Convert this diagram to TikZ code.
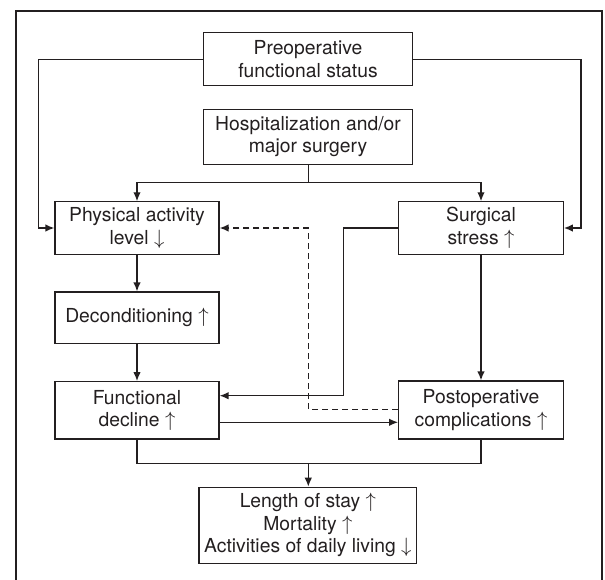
\documentclass[tikz,border=0pt]{standalone}
\usepackage{fontspec}
\setmainfont{TeX Gyre Heros}
\usetikzlibrary{arrows.meta}
\definecolor{ink}{HTML}{231F20}
\begin{document}
\begin{tikzpicture}[x=1pt,y=-1pt,
  box/.style={draw=ink,line width=1.2pt,inner sep=0pt,align=center,text=ink,
    font=\fontsize{19.3}{22.5}\selectfont,anchor=center},
  conn/.style={draw=ink,line width=1.4pt},
  arr/.style={conn,-{Latex[length=9pt,width=7.5pt]}},
  dsh/.style={arr,dash pattern=on 6pt off 4pt}]
\useasboundingbox (0,0) rectangle (605,579);
\draw[ink,line width=2.3pt] (16,581) -- (16,11) -- (602,11) -- (602,581);
% nodes
\node[box,minimum width=209.4pt,minimum height=53pt] (preop) at (308,59.3) {Preoperative\\functional status};
\node[box,minimum width=209.4pt,minimum height=55pt] (hosp) at (308,136.8) {Hospitalization and/or\\major surgery};
\node[box,minimum width=164pt,minimum height=52.3pt] (phys) at (137,228) {Physical activity\\level $\downarrow$};
\node[box,minimum width=164.6pt,minimum height=52.3pt] (surg) at (481,228) {Surgical\\stress $\uparrow$};
\node[box,minimum width=164pt,minimum height=51.3pt] (decond) at (137,317.7) {Deconditioning $\uparrow$};
\node[box,minimum width=164pt,minimum height=57.3pt] (func) at (137,410.3) {Functional\\decline $\uparrow$};
\node[box,minimum width=164.6pt,minimum height=58pt] (postop) at (481,410) {Postoperative\\complications $\uparrow$};
\node[box,minimum width=217.7pt,minimum height=76pt] (out) at (307.9,525.3) {Length of stay $\uparrow$\\Mortality $\uparrow$\\Activities of daily living $\downarrow$};
% coordinates
\coordinate (pl) at (38.3,228);
\coordinate (pr) at (581,228);
\coordinate (hj) at (308.3,182.7);
\coordinate (sl) at (343.3,395.7);
\coordinate (dl) at (308.3,409.3);
\coordinate (fp) at (0,422.3);
\coordinate (bl) at (137,463.3);
\coordinate (br) at (481,463.3);
\coordinate (bm) at (308.3,463.3);
% connectors
\draw[arr] (preop.west) -| (pl) -- (phys.west);
\draw[arr] (preop.east) -| (pr) -- (surg.east);
\draw[conn] (hosp.south -| hj) -- (hj);
\draw[arr] (hj) -| (phys.north);
\draw[arr] (hj) -| (surg.north);
\draw[arr] (phys.south) -- (decond.north);
\draw[arr] (decond.south) -- (func.north);
\draw[arr] (surg.south) -- (postop.north);
\draw[arr] (surg.west) -| (sl) -- (sl -| func.east);
\draw[dsh] (dl -| postop.west) -- (dl) -- (dl |- phys.east) -- (phys.east);
\draw[arr] (fp -| func.east) -- (fp -| postop.west);
\draw[conn] (func.south) -- (bl) -- (br) -- (postop.south);
\draw[arr] (bm) -- (out.north -| bm);
\end{tikzpicture}
\end{document}
